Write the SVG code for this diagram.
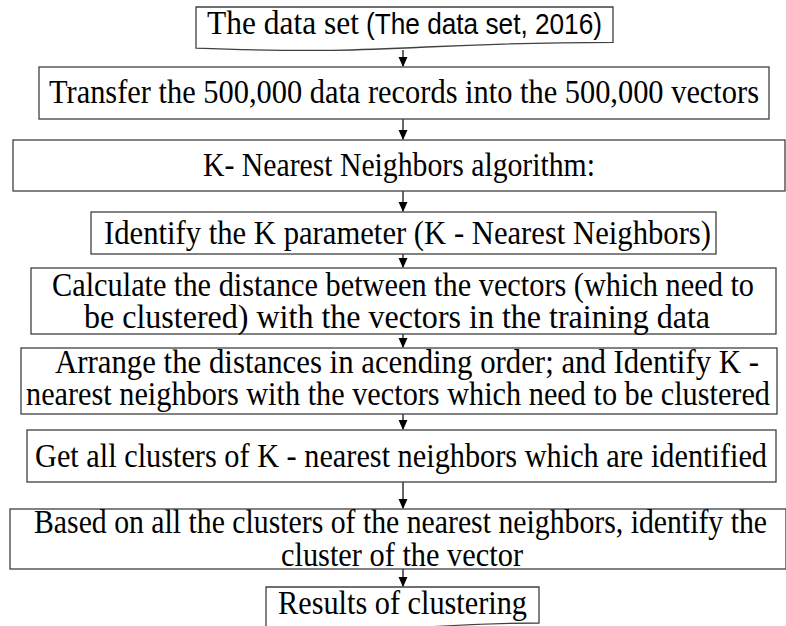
<svg xmlns="http://www.w3.org/2000/svg" width="786" height="626" viewBox="0 0 786 626">
<style>
.box{fill:#fff;stroke:#404040;stroke-width:1.3}
.t{font-family:"Liberation Serif","Times New Roman",serif;font-size:33px;fill:#000}
.s{font-family:"Liberation Sans",Arial,sans-serif;font-size:29px;fill:#000}
.c{stroke:#000;stroke-width:1.2;fill:none}
</style>
<defs>
<marker id="ah" markerWidth="10" markerHeight="10" refX="8" refY="4" orient="auto" markerUnits="userSpaceOnUse" viewBox="0 0 9 8">
<path d="M0,0 L9,4 L0,8 Z" fill="#000"/>
</marker>
</defs>
<rect width="786" height="626" fill="#fff"/>
<g id="connectors">
<line class="c" x1="403" y1="50" x2="403" y2="66" marker-end="url(#ah)"/>
<line class="c" x1="403" y1="119" x2="403" y2="139" marker-end="url(#ah)"/>
<line class="c" x1="403" y1="191" x2="403" y2="211" marker-end="url(#ah)"/>
<line class="c" x1="403" y1="254" x2="403" y2="267" marker-end="url(#ah)"/>
<line class="c" x1="403" y1="334" x2="403" y2="347" marker-end="url(#ah)"/>
<line class="c" x1="403" y1="414" x2="403" y2="429" marker-end="url(#ah)"/>
<line class="c" x1="403" y1="482" x2="403" y2="508" marker-end="url(#ah)"/>
<line class="c" x1="403" y1="569" x2="403" y2="586" marker-end="url(#ah)"/>
</g>
<g id="n1">
<path class="box" d="M196,7 H613 V42.3 C404,42.3 404,55.7 196,48.1 Z"/>
<text class="t" x="207" y="34" textLength="152" lengthAdjust="spacingAndGlyphs">The data set</text>
<text class="s" x="366" y="34" textLength="236" lengthAdjust="spacingAndGlyphs">(The data set, 2016)</text>
</g>
<g id="n2">
<rect class="box" x="39" y="67" width="730" height="52"/>
<text class="t" x="49" y="103" textLength="710" lengthAdjust="spacingAndGlyphs">Transfer the 500,000 data records into the 500,000 vectors</text>
</g>
<g id="n3">
<rect class="box" x="13" y="140" width="772" height="51"/>
<text class="t" x="203" y="176" textLength="392" lengthAdjust="spacingAndGlyphs">K- Nearest Neighbors algorithm:</text>
</g>
<g id="n4">
<rect class="box" x="91" y="212" width="625" height="42"/>
<text class="t" x="104" y="244" textLength="607" lengthAdjust="spacingAndGlyphs">Identify the K parameter (K - Nearest Neighbors)</text>
</g>
<g id="n5">
<rect class="box" x="31" y="268" width="745" height="66"/>
<text class="t" x="52" y="296" textLength="702" lengthAdjust="spacingAndGlyphs">Calculate the distance between the vectors (which need to</text>
<text class="t" x="84" y="328" textLength="626" lengthAdjust="spacingAndGlyphs">be clustered) with the vectors in the training data</text>
</g>
<g id="n6">
<rect class="box" x="21" y="348" width="756" height="66"/>
<text class="t" x="55" y="373" textLength="704" lengthAdjust="spacingAndGlyphs">Arrange the distances in acending order; and Identify K -</text>
<text class="t" x="26" y="405" textLength="744" lengthAdjust="spacingAndGlyphs">nearest neighbors with the vectors which need to be clustered</text>
</g>
<g id="n7">
<rect class="box" x="27" y="430" width="749" height="52"/>
<text class="t" x="35" y="467" textLength="732" lengthAdjust="spacingAndGlyphs">Get all clusters of K - nearest neighbors which are identified</text>
</g>
<g id="n8">
<rect class="box" x="10" y="509" width="776" height="60"/>
<text class="t" x="34" y="533" textLength="733" lengthAdjust="spacingAndGlyphs">Based on all the clusters of the nearest neighbors, identify the</text>
<text class="t" x="281" y="566" textLength="242" lengthAdjust="spacingAndGlyphs">cluster of the vector</text>
</g>
<g id="n9">
<path class="box" d="M266,587 H539 V623 C402.5,623 402.5,636.8 266,629 Z"/>
<text class="t" x="278" y="614" textLength="249" lengthAdjust="spacingAndGlyphs">Results of clustering</text>
</g>
</svg>
